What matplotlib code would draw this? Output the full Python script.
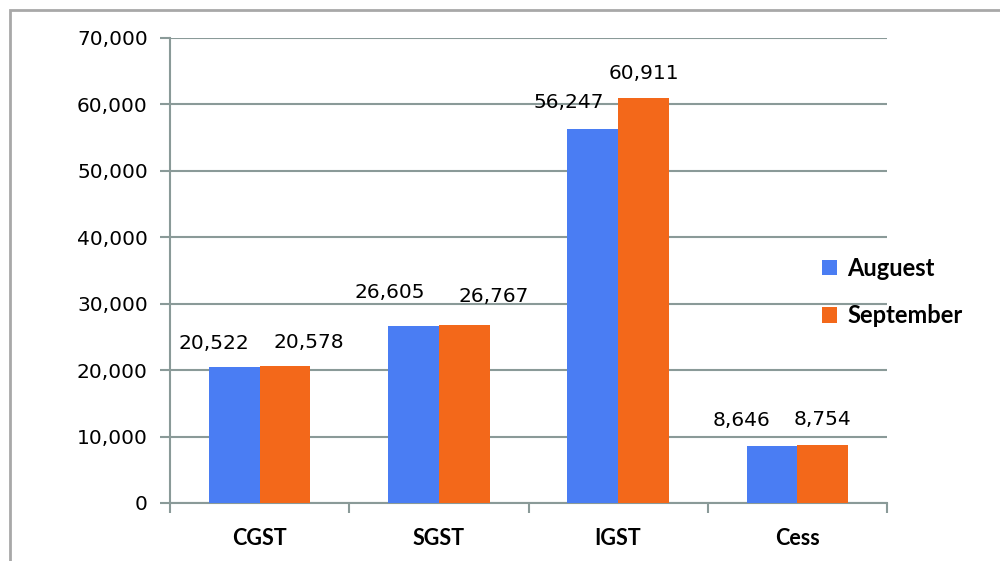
import numpy as np
import matplotlib.pyplot as plt
from matplotlib.patches import Rectangle

categories = ["CGST", "SGST", "IGST", "Cess"]
august = [20522, 26605, 56247, 8646]
september = [20578, 26767, 60911, 8754]
series_names = ["Auguest", "September"]

# label offsets from bar top (points): (dx, dy)
aug_offsets = [(-15, 17), (-17, 24), (-17, 19), (-22, 18)]
sep_offsets = [(17, 17), (21, 21), (0, 18), (0, 18)]

blue = "#4A7DF3"
orange = "#F3681A"
grid_c = "#8A9A98"

fig = plt.figure(figsize=(10, 5.61), dpi=100)
ax = fig.add_axes([0.17, 0.1034, 0.717, 0.8289])

x = np.arange(len(categories))
w = 0.283
b1 = ax.bar(x - w/2, august, w, color=blue, label=series_names[0], zorder=3)
b2 = ax.bar(x + w/2, september, w, color=orange, label=series_names[1], zorder=3)

for bars, vals, offs in [(b1, august, aug_offsets), (b2, september, sep_offsets)]:
    for bar, v, (dx, dy) in zip(bars, vals, offs):
        ax.annotate(f"{v:,}", (bar.get_x() + bar.get_width()/2, v),
                    xytext=(dx, dy), textcoords="offset points",
                    ha="center", va="center", fontsize=14.5,
                    family="DejaVu Sans", color="black", zorder=4)

ax.set_xlim(-0.5, 3.5)
ax.set_ylim(0, 70000)
ax.set_yticks(np.arange(0, 70001, 10000))
ax.yaxis.set_major_formatter(plt.FuncFormatter(lambda v, p: f"{int(v):,}"))
ax.grid(axis="y", color=grid_c, linewidth=1.5, zorder=0)

ax.set_xticks(x)
ax.set_xticklabels(categories, fontsize=15.5, fontweight="bold", family="Lato")
ax.set_xticks(np.arange(-0.5, 4, 1), minor=True)
ax.tick_params(axis="x", which="major", length=0, pad=18)
ax.tick_params(axis="x", which="minor", length=7, width=1.5, color=grid_c)
ax.tick_params(axis="y", length=7, width=1.5, color=grid_c, pad=9,
               labelsize=14.5, labelcolor="black")

for s in ["top", "right"]:
    ax.spines[s].set_visible(False)
for s in ["left", "bottom"]:
    ax.spines[s].set_color(grid_c)
    ax.spines[s].set_linewidth(1.5)

leg = ax.legend(loc="center left", bbox_to_anchor=(0.801, 0.4795),
                bbox_transform=fig.transFigure, frameon=False,
                handlelength=0.62, handleheight=0.62, handletextpad=0.45,
                labelspacing=1.05, prop={"family": "Lato", "weight": "bold", "size": 17})

# outer frame (only top/left edges fall inside the image)
fig.patches.append(Rectangle((0.0095, -0.5), 2, 1.482, transform=fig.transFigure,
                             fill=False, edgecolor="#A8A8A8", linewidth=2))

fig.savefig("out.png", dpi=100)
